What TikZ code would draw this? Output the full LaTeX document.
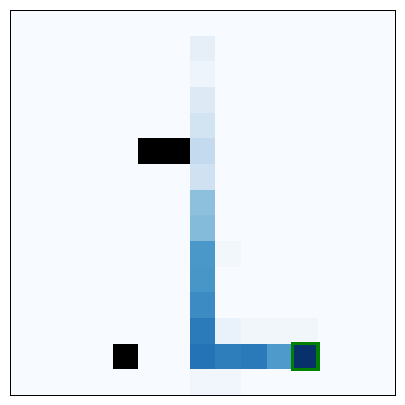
\documentclass[tikz,border=0pt]{standalone}
\definecolor{bgc}{HTML}{F7FBFF}
\definecolor{fr}{HTML}{000000}
\definecolor{goalg}{HTML}{008000}
\tikzset{cellbox/.style={fill=#1, draw=none}}
\begin{document}
\begin{tikzpicture}[x=1cm,y=-1cm]
\useasboundingbox (-0.3896,-0.3896) rectangle (15.3896,15.3896);
\fill[bgc] (0,0) rectangle (15,15);
\foreach \c/\r/\col in {
7/1/E6EFF8, 7/2/EEF4FB, 7/3/DDE9F5, 7/4/D2E3F2, 7/5/C4DAEE, 7/6/D0E2F2,
7/7/8DC0DD, 7/8/84BBDB, 7/9/4A98C9, 7/10/4896C8, 7/11/3D8BC3, 7/12/2B7BBA,
7/13/2473B6, 7/14/F0F6FC, 8/14/F0F6FC,
8/9/F2F7FC, 8/12/E9F2FA, 9/12/F1F6FB, 10/12/F1F6FB, 11/12/F1F6FB,
8/13/2F7EBC, 9/13/2A79B9, 10/13/4E9BCB, 11/13/08306B,
5/5/000000, 6/5/000000, 4/13/000000}{
  \definecolor{tmpc}{HTML}{\col}
  \fill[tmpc] (\c,\r) rectangle ++(1,1);
}
\node[draw=goalg, line width=3.6pt, minimum size=1cm, inner sep=0pt] (goal) at (11.5,13.5) {};
\node[draw=fr, line width=1.1pt, minimum size=15cm, inner sep=0pt] (frame) at (7.5,7.5) {};
\end{tikzpicture}
\end{document}
